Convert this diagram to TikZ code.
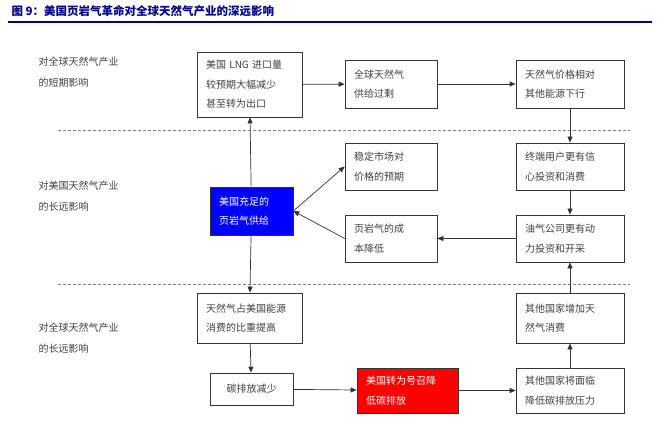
\documentclass[tikz,border=0pt]{standalone}
\usepackage{fontspec}
\setmainfont{Liberation Serif}
\newfontfamily\cjk{Noto Sans CJK SC}
\usetikzlibrary{arrows.meta}
\begin{document}
\begin{tikzpicture}[x=1pt,y=-1pt,
 bx/.style={draw=black!80,line width=0.7pt,fill=white,align=left,font=\cjk\fontsize{10}{19.5}\selectfont,text=black!75,inner xsep=0pt,inner ysep=0pt},
 w/.style={minimum width=#1,text width=#1-18},
 lab/.style={align=left,font=\cjk\fontsize{10}{21}\selectfont,text=black!75,anchor=west},
 ar/.style={-{Triangle[length=6pt,width=5pt]},line width=0.7pt,draw=black!80},
 dl/.style={dashed,draw=black!50,line width=0.8pt,dash pattern=on 3pt off 2pt}]
\useasboundingbox (0,0) rectangle (660,435);
\node[anchor=west,font=\cjk\bfseries\fontsize{11.5}{13}\selectfont,text=blue!55!black] (title) at (8,11) {图 9：美国页岩气革命对全球天然气产业的深远影响};
\draw[draw=blue!55!black,line width=1.2pt] (8,22) -- (652,22);
\node[lab] (l1) at (35,72) {对全球天然气产业\\的短期影响};
\node[lab] (l2) at (35,196) {对美国天然气产业\\的长远影响};
\node[lab] (l3) at (35,338) {对全球天然气产业\\的长远影响};
\draw[dl] (58,130) -- (630,130);
\draw[dl] (58,284) -- (630,284);
\node[bx,w=105,minimum height=65] (A) at (249.5,84.5) {美国 LNG 进口量\\较预期大幅减少\\甚至转为出口};
\node[bx,w=92,minimum height=48] (B) at (391,84) {全球天然气\\供给过剩};
\node[bx,w=108,minimum height=48] (C) at (570,84) {天然气价格相对\\其他能源下行};
\node[bx,w=92,minimum height=47] (D) at (391,166.5) {稳定市场对\\价格的预期};
\node[bx,w=108,minimum height=47] (E) at (570,166.5) {终端用户更有信\\心投资和消费};
\node[bx,fill=blue,text=white,w=83,minimum height=48] (S) at (251.5,211) {美国充足的\\页岩气供给};
\node[bx,w=92,minimum height=47] (F) at (391,238.5) {页岩气的成\\本降低};
\node[bx,w=108,minimum height=47] (G) at (570,238.5) {油气公司更有动\\力投资和开采};
\node[bx,w=105,minimum height=50] (H) at (249.5,318) {天然气占美国能源\\消费的比重提高};
\node[bx,w=108,minimum height=50] (I) at (570,318) {其他国家增加天\\然气消费};
\node[bx,minimum width=83,minimum height=32,align=center] (J) at (251.5,389) {碳排放减少};
\node[bx,fill=red,text=white,w=101,minimum height=45] (R) at (407.5,390.5) {美国转为号召降\\低碳排放};
\node[bx,w=108,minimum height=45] (K) at (570,390.5) {其他国家将面临\\降低碳排放压力};
\draw[ar] (S) -- (A);
\draw[ar] (A) -- (B);
\draw[ar] (B) -- (C);
\draw[ar] (C) -- (E);
\draw[ar] (S.east) -- (D.west);
\draw[ar] (E) -- (G);
\draw[ar] (G) -- (F);
\draw[ar] (F.west) -- (S.east);
\draw[ar] (S) -- (H);
\draw[ar] (H) -- (J);
\draw[ar] (J) -- (R);
\draw[ar] (R) -- (K);
\draw[ar] (K) -- (I);
\draw[ar] (I) -- (G);
\end{tikzpicture}
\end{document}
